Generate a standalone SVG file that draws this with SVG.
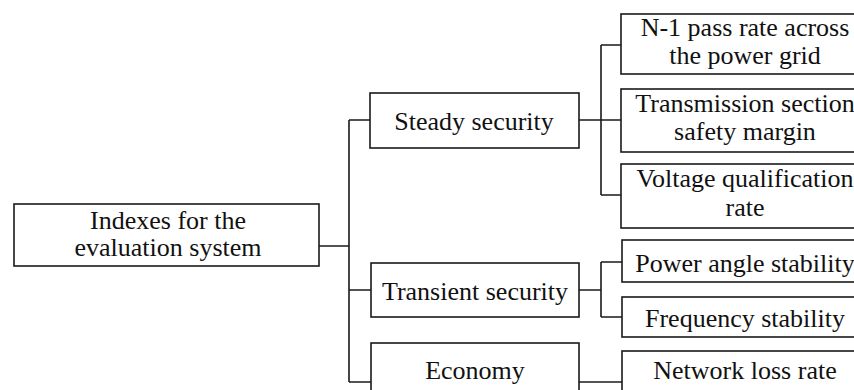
<svg xmlns="http://www.w3.org/2000/svg" width="854" height="390" viewBox="0 0 854 390">
<style>
.box{fill:#fff;stroke:#1a1a1a;stroke-width:1.6}
.ln{fill:none;stroke:#1a1a1a;stroke-width:1.6}
text{font-family:"Liberation Serif","Times New Roman",serif;font-size:26px;fill:#111;text-anchor:middle}
</style>
<rect width="854" height="390" fill="#fff"/>
<g id="connectors" class="ln">
<path d="M319 246H349M349 120V382M349 120H370M349 290H371M349 382H371"/>
<path d="M579 120H621M601 45V195M601 45H621M601 195H621"/>
<path d="M579 290H601M601 262V317M601 262H622M601 317H622"/>
<path d="M579 382H622"/>
</g>
<g id="root"><rect class="box" x="14" y="204" width="305" height="62"/><text x="168" y="229">Indexes for the</text><text x="168" y="256">evaluation system</text></g>
<g id="steady"><rect class="box" x="370" y="93" width="209" height="55"/><text x="474" y="130">Steady security</text></g>
<g id="transient"><rect class="box" x="371" y="263" width="208" height="54"/><text x="475" y="300">Transient security</text></g>
<g id="economy"><rect class="box" x="371" y="343" width="208" height="56"/><text x="475" y="379">Economy</text></g>
<g id="n1"><rect class="box" x="621" y="14" width="250" height="60"/><text x="745" y="36">N-1 pass rate across</text><text x="745" y="64">the power grid</text></g>
<g id="transmission"><rect class="box" x="621" y="89" width="250" height="63"/><text x="745" y="112">Transmission section</text><text x="745" y="140">safety margin</text></g>
<g id="voltage"><rect class="box" x="621" y="164" width="250" height="64"/><text x="745" y="187">Voltage qualification</text><text x="745" y="216">rate</text></g>
<g id="power"><rect class="box" x="622" y="240" width="250" height="42"/><text x="745" y="272">Power angle stability</text></g>
<g id="frequency"><rect class="box" x="622" y="297" width="250" height="40"/><text x="745" y="327">Frequency stability</text></g>
<g id="network"><rect class="box" x="622" y="351" width="250" height="48"/><text x="745" y="379">Network loss rate</text></g>
</svg>
